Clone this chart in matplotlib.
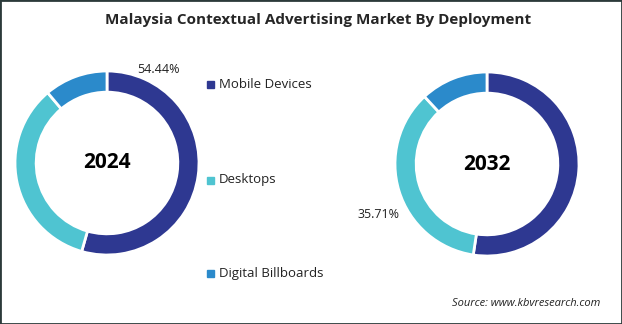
import matplotlib.pyplot as plt
from matplotlib.patches import Rectangle

segments = ['Mobile Devices', 'Desktops', 'Digital Billboards']
share_2024 = [54.44, 34.40, 11.16]
share_2032 = [52.39, 35.71, 11.90]
colors = ['#2E3891', '#4FC4D1', '#2B8ACB']

W, H = 622, 324
fig = plt.figure(figsize=(W / 100, H / 100), dpi=100)
plt.rcParams['font.family'] = ['Open Sans', 'DejaVu Sans']


def donut(cx, cy, r, values, year, label_idx, label_xy):
    # axes in pixel coords, y measured from top
    ax = fig.add_axes([(cx - r) / W, 1 - (cy + r) / H, 2 * r / W, 2 * r / H])
    ax.pie(values, colors=colors, startangle=90, counterclock=False,
           radius=1, wedgeprops=dict(width=0.23, edgecolor='white', linewidth=2))
    ax.set_aspect('equal')
    ax.set_xlim(-1, 1)
    ax.set_ylim(-1, 1)
    ax.text(0, 0, year, ha='center', va='center', fontsize=15, fontweight='bold')
    fig.text(label_xy[0] / W, 1 - label_xy[1] / H, f'{values[label_idx]:.2f}%',
             ha='center', va='center', fontsize=9, color='#222222')


donut(107, 163, 92, share_2024, '2024', 0, (158, 69))
donut(487, 164, 92, share_2032, '2032', 1, (378, 215))

fig.text(318 / W, 1 - 20 / H, 'Malaysia Contextual Advertising Market By Deployment',
         ha='center', va='center', fontsize=11, fontweight='bold', color='#262626')

for name, col, y in zip(segments, colors, [84, 180, 273]):
    fig.patches.append(Rectangle(((207) / W, 1 - (y + 3.5) / H), 7 / W, 7 / H,
                                 transform=fig.transFigure, color=col))
    fig.text(219 / W, 1 - y / H, name, ha='left', va='center', fontsize=9.5,
             color='#222222')

fig.text(600 / W, 1 - 303 / H, 'Source: www.kbvresearch.com', ha='right',
         va='center', fontsize=8, style='italic', color='#222222')

fig.patches.append(Rectangle((0, 0), 1, 1, transform=fig.transFigure,
                             fill=False, edgecolor='#2b3a3a', linewidth=2))

fig.savefig('out.png', dpi=100)
